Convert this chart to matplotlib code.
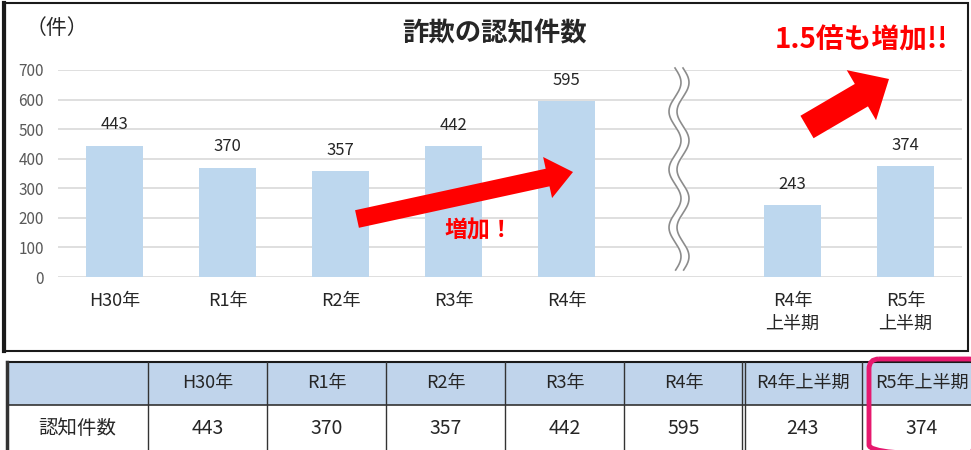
import numpy as np
import matplotlib
matplotlib.use("Agg")
import matplotlib.pyplot as plt
from matplotlib.patches import FancyArrow, Rectangle, FancyBboxPatch

plt.rcParams['font.family'] = ['Noto Sans CJK JP', 'DejaVu Sans']

categories = ["H30年", "R1年", "R2年", "R3年", "R4年", "R4年\n上半期", "R5年\n上半期"]
table_headers = ["H30年", "R1年", "R2年", "R3年", "R4年", "R4年上半期", "R5年上半期"]
counts = [443, 370, 357, 442, 595, 243, 374]
slots = [0, 1, 2, 3, 4, 6, 7]   # slot 5 left empty for the axis break
yticks = [0, 100, 200, 300, 400, 500, 600, 700]
title = "詐欺の認知件数"
unit_label = "（件）"
row_label = "認知件数"
note_big = "1.5倍も増加!!"
note_small = "増加！"

W, H = 971, 450
RED = "#FF0000"
TXT = "#262626"

fig = plt.figure(figsize=(W / 100, H / 100), dpi=100)

# bar chart
ax = fig.add_axes([58 / W, 1 - 277 / H, 904 / W, 207 / H])
ax.bar(slots, counts, width=0.5, color="#BDD7EE", zorder=2)
ax.set_xlim(-0.5, 7.5)
ax.set_ylim(0, 700)
ax.set_yticks(yticks)
ax.set_xticks(slots, categories)
ax.grid(axis='y', color='#D9D9D9', lw=1.2, zorder=0)
for s in ax.spines.values():
    s.set_visible(False)
ax.tick_params(axis='y', length=0, pad=10, labelsize=11, labelcolor='#595959')
ax.tick_params(axis='x', length=0, pad=11, labelsize=13, labelcolor=TXT)
for lbl in ax.get_xticklabels():
    lbl.set_linespacing(1.35)
for x, v in zip(slots, counts):
    ax.annotate(str(v), (x, v), xytext=(0, 9), textcoords='offset points',
                ha='center', va='bottom', fontsize=12, color=TXT)

# overlay in pixel coordinates for frame, notes, arrows and table
ov = fig.add_axes([0, 0, 1, 1], zorder=5)
ov.set_xlim(0, W)
ov.set_ylim(H, 0)
ov.axis('off')

ov.add_patch(Rectangle((5, 3), 963, 348, fill=False, ec='#1a1a1a', lw=1.5))
ov.plot([4, 4], [3, 351], color='#1a1a1a', lw=3)

# wavy axis break
yy = np.linspace(68, 270, 200)
xa = 675 + 6 * np.sin(2 * np.pi * (yy - 68) / 58)
xb = xa + 8
ov.fill_betweenx(yy, xa, xb, color='white', zorder=3)
ov.plot(xa, yy, color='#8c8c8c', lw=1.2, zorder=4)
ov.plot(xb, yy, color='#8c8c8c', lw=1.2, zorder=4)

ov.text(495, 34, title, ha='center', va='center', fontsize=19, weight='bold', color=TXT)
ov.text(57, 28, unit_label, ha='center', va='center', fontsize=15, color=TXT)

ov.text(861, 40, note_big, ha='center', va='center', fontsize=20, weight='bold', color=RED)
ov.text(479, 231, note_small, ha='center', va='center', fontsize=16.5, weight='bold', color=RED)

ov.add_patch(FancyArrow(357, 219, 216, -47, width=18, head_width=42, head_length=26,
                        length_includes_head=True, color=RED, lw=0, zorder=6))
ov.add_patch(FancyArrow(807, 127, 82, -48, width=26, head_width=58, head_length=32,
                        length_includes_head=True, color=RED, lw=0, zorder=6))

# table
top, mid, bot = 362, 405, 455
edges = [7, 148] + [148 + 119 * (i + 1) for i in range(len(table_headers))]
ov.add_patch(Rectangle((edges[0], top), edges[-1] - edges[0], mid - top,
                       fc='#C0D4EB', ec='none'))
ov.plot([edges[0], W], [top, top], color='#1a1a1a', lw=1.5)
ov.plot([edges[0], W], [mid, mid], color='#333333', lw=1.2)
for i, e in enumerate(edges):
    if i == 6:
        ov.plot([e - 1.5, e - 1.5], [top, bot], color='#333333', lw=1)
        ov.plot([e + 1.5, e + 1.5], [top, bot], color='#333333', lw=1)
    else:
        ov.plot([e, e], [top, bot], color='#333333', lw=2.5 if i == 0 else 1)

ov.text((edges[0] + edges[1]) / 2, 428, row_label, ha='center', va='center',
        fontsize=14, color=TXT)
for i, (hd, v) in enumerate(zip(table_headers, counts)):
    cx = (edges[i + 1] + edges[i + 2]) / 2
    ov.text(cx, 383, hd, ha='center', va='center', fontsize=13, color=TXT)
    ov.text(cx, 428, str(v), ha='center', va='center', fontsize=14, color=TXT)

ov.add_patch(FancyBboxPatch((869, 359), 110, 96, boxstyle="round,pad=0,rounding_size=10",
                            ec='#E6196E', fc='none', lw=3.5, zorder=7))

fig.savefig("out.png", dpi=100)
